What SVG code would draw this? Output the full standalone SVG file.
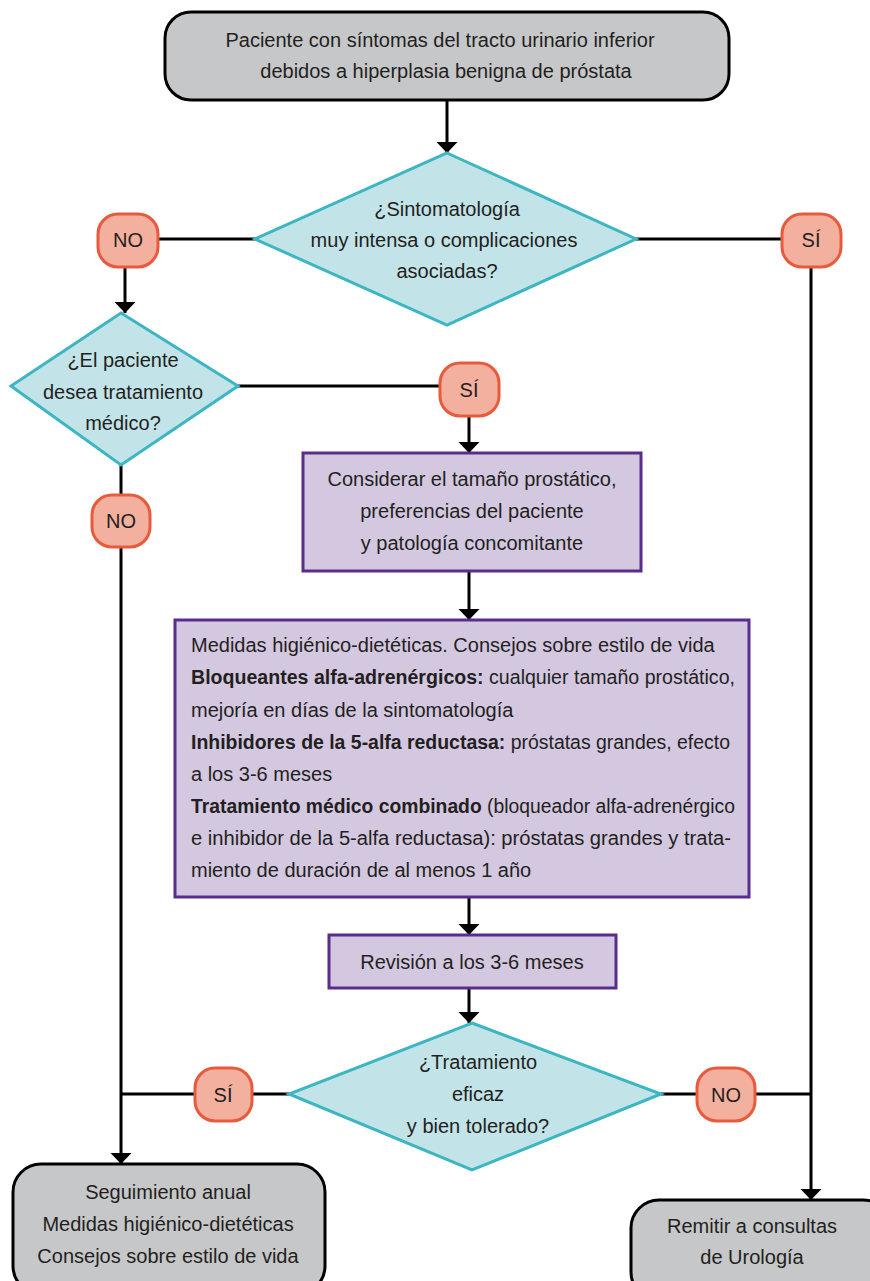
<svg xmlns="http://www.w3.org/2000/svg" width="870" height="1281" viewBox="0 0 870 1281">
<defs>
<marker id="arr" markerUnits="userSpaceOnUse" markerWidth="12" markerHeight="22" refX="11" refY="10.5" orient="auto">
<path d="M0,0 L11,10.5 L0,21 Z" fill="#000"/>
</marker>
<style>
text{font-family:"Liberation Sans",Arial,sans-serif;font-size:20px;fill:#231f20;}
.c{text-anchor:middle;}
.b{font-weight:bold;}
.grey{fill:#c6c7c9;stroke:#000;stroke-width:3;}
.dia{fill:#c2e3e8;stroke:#3cb6c2;stroke-width:3;}
.pur{fill:#d3c8e0;stroke:#5a2d8c;stroke-width:3;}
.pill{fill:#f4b09f;stroke:#e85a3c;stroke-width:3;}
.ln{fill:none;stroke:#000;stroke-width:3;}
.ar{marker-end:url(#arr);}
</style>
</defs>
<rect width="870" height="1281" fill="#fff"/>
<g id="connectors">
<line class="ln ar" x1="447" y1="100" x2="447" y2="153"/>
<line class="ln" x1="255" y1="239" x2="158" y2="239"/>
<line class="ln ar" x1="125" y1="267" x2="125" y2="313"/>
<line class="ln" x1="636" y1="239" x2="782" y2="239"/>
<line class="ln ar" x1="811" y1="267" x2="811" y2="1200"/>
<line class="ln" x1="238" y1="386" x2="440" y2="386"/>
<line class="ln ar" x1="469" y1="416" x2="469" y2="453"/>
<line class="ln" x1="121" y1="465" x2="121" y2="495"/>
<line class="ln ar" x1="121" y1="547" x2="121" y2="1164"/>
<line class="ln ar" x1="469" y1="572" x2="469" y2="620"/>
<line class="ln ar" x1="469" y1="897" x2="469" y2="935"/>
<line class="ln ar" x1="469" y1="988" x2="469" y2="1023"/>
<line class="ln" x1="289" y1="1094" x2="252" y2="1094"/>
<line class="ln" x1="195" y1="1094" x2="121" y2="1094"/>
<line class="ln" x1="661" y1="1094" x2="697" y2="1094"/>
<line class="ln" x1="755" y1="1094" x2="811" y2="1094"/>
</g>
<g id="n-start">
<rect class="grey" x="165" y="12" width="564" height="88" rx="26"/>
<text class="c" x="440" y="47">Paciente con síntomas del tracto urinario inferior</text>
<text class="c" x="446" y="78">debidos a hiperplasia benigna de próstata</text>
</g>
<g id="d-sintomas">
<polygon class="dia" points="447,153 636,239 447,325 255,239"/>
<text class="c" x="447" y="216">¿Sintomatología</text>
<text class="c" x="444" y="247">muy intensa o complicaciones</text>
<text class="c" x="447" y="278">asociadas?</text>
</g>
<g id="p-no1">
<rect class="pill" x="98" y="214" width="60" height="53" rx="20"/>
<text class="c" x="128" y="247">NO</text>
</g>
<g id="p-si1">
<rect class="pill" x="782" y="214" width="59" height="53" rx="20"/>
<text class="c" x="811" y="247">SÍ</text>
</g>
<g id="d-desea">
<polygon class="dia" points="121,313 238,386 121,465 11,386"/>
<text class="c" x="123" y="367">¿El paciente</text>
<text class="c" x="123" y="399">desea tratamiento</text>
<text class="c" x="123" y="430">médico?</text>
</g>
<g id="p-si2">
<rect class="pill" x="440" y="363" width="59" height="53" rx="20"/>
<text class="c" x="469" y="397">SÍ</text>
</g>
<g id="p-no2">
<rect class="pill" x="92" y="495" width="58" height="52" rx="20"/>
<text class="c" x="121" y="528">NO</text>
</g>
<g id="n-considerar">
<rect class="pur" x="303" y="453" width="338" height="118"/>
<text class="c" x="472" y="486">Considerar el tamaño prostático,</text>
<text class="c" x="472" y="518">preferencias del paciente</text>
<text class="c" x="472" y="550">y patología concomitante</text>
</g>
<g id="n-tratamiento">
<rect class="pur" x="175" y="620" width="574" height="277"/>
<text x="191" y="652">Medidas higiénico-dietéticas. Consejos sobre estilo de vida</text>
<text x="191" y="684" textLength="544" lengthAdjust="spacingAndGlyphs"><tspan class="b">Bloqueantes alfa-adrenérgicos:</tspan> cualquier tamaño prostático,</text>
<text x="191" y="717">mejoría en días de la sintomatología</text>
<text x="191" y="749" textLength="539" lengthAdjust="spacingAndGlyphs"><tspan class="b">Inhibidores de la 5-alfa reductasa:</tspan> próstatas grandes, efecto</text>
<text x="191" y="781">a los 3-6 meses</text>
<text x="191" y="813" textLength="544" lengthAdjust="spacingAndGlyphs"><tspan class="b">Tratamiento médico combinado</tspan> (bloqueador alfa-adrenérgico</text>
<text x="191" y="845" textLength="540" lengthAdjust="spacingAndGlyphs">e inhibidor de la 5-alfa reductasa): próstatas grandes y trata-</text>
<text x="191" y="877">miento de duración de al menos 1 año</text>
</g>
<g id="n-revision">
<rect class="pur" x="329" y="935" width="287" height="53"/>
<text class="c" x="472" y="969">Revisión a los 3-6 meses</text>
</g>
<g id="d-eficaz">
<polygon class="dia" points="472,1023 661,1094 472,1170 289,1094"/>
<text class="c" x="478" y="1069">¿Tratamiento</text>
<text class="c" x="478" y="1101">eficaz</text>
<text class="c" x="478" y="1133">y bien tolerado?</text>
</g>
<g id="p-si3">
<rect class="pill" x="195" y="1068" width="57" height="53" rx="20"/>
<text class="c" x="223" y="1102">SÍ</text>
</g>
<g id="p-no3">
<rect class="pill" x="697" y="1068" width="58" height="53" rx="20"/>
<text class="c" x="726" y="1102">NO</text>
</g>
<g id="n-seguimiento">
<rect class="grey" x="13" y="1164" width="312" height="130" rx="28"/>
<text class="c" x="168" y="1199">Seguimiento anual</text>
<text class="c" x="168" y="1231">Medidas higiénico-dietéticas</text>
<text class="c" x="168" y="1263">Consejos sobre estilo de vida</text>
</g>
<g id="n-remitir">
<rect class="grey" x="631" y="1200" width="260" height="100" rx="28"/>
<text class="c" x="752" y="1233">Remitir a consultas</text>
<text class="c" x="752" y="1264">de Urología</text>
</g>
</svg>
